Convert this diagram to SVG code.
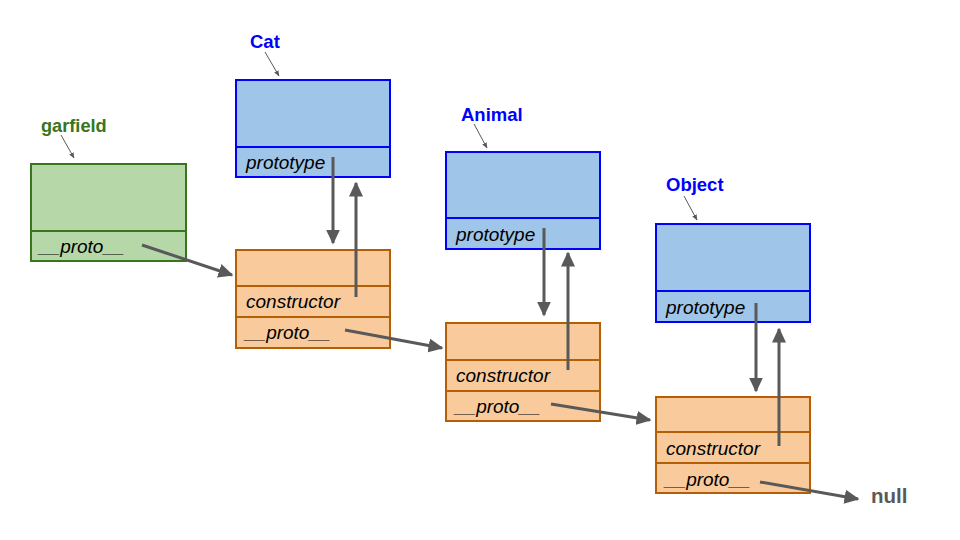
<svg xmlns="http://www.w3.org/2000/svg" width="960" height="540" viewBox="0 0 960 540">
<style>
.g{fill:#b6d7a8;stroke:#38761d;stroke-width:2}
.b{fill:#9fc5e8;stroke:#0000ff;stroke-width:2}
.o{fill:#f9cb9c;stroke:#b45f06;stroke-width:2}
.t{font-family:"Liberation Sans",Arial,sans-serif;font-size:19px;font-style:italic;fill:#000}
.lb{font-family:"Liberation Sans",Arial,sans-serif;font-size:18.5px;font-weight:bold;fill:#0000ff}
.lg{font-family:"Liberation Sans",Arial,sans-serif;font-size:18.2px;font-weight:bold;fill:#38761d}
.a{stroke:#595959;stroke-width:3;fill:none;marker-end:url(#ah)}
.s{stroke:#595959;stroke-width:1;fill:none;marker-end:url(#sh)}
</style>
<defs>
<marker id="ah" viewBox="0 0 10 9.4" refX="9" refY="4.7" markerWidth="5" markerHeight="4.7" orient="auto" markerUnits="strokeWidth"><path d="M0,0 L10,4.7 L0,9.4 z" fill="#595959"/></marker>
<marker id="sh" viewBox="0 0 10 10" refX="9" refY="5" markerWidth="6" markerHeight="6" orient="auto" markerUnits="strokeWidth"><path d="M0,1 L10,5 L0,9 z" fill="#595959"/></marker>
</defs>
<rect width="960" height="540" fill="#fff"/>
<g id="garfield">
<rect class="g" x="31" y="164" width="155" height="67"/>
<rect class="g" x="31" y="231" width="155" height="30"/>
<text class="t" x="39" y="253">__proto__</text>
<text class="lg" x="41" y="132">garfield</text>
</g>
<g id="cat">
<rect class="b" x="236" y="80" width="154" height="67"/>
<rect class="b" x="236" y="147" width="154" height="30"/>
<text class="t" x="246" y="169">prototype</text>
<text class="lb" x="250" y="48">Cat</text>
</g>
<g id="cat-proto">
<rect class="o" x="236" y="250" width="154" height="36"/>
<rect class="o" x="236" y="286" width="154" height="31"/>
<rect class="o" x="236" y="317" width="154" height="31"/>
<text class="t" x="246" y="308">constructor</text>
<text class="t" x="245" y="339">__proto__</text>
</g>
<g id="animal">
<rect class="b" x="446" y="152" width="154" height="66"/>
<rect class="b" x="446" y="218" width="154" height="31"/>
<text class="t" x="456" y="241">prototype</text>
<text class="lb" x="461" y="121">Animal</text>
</g>
<g id="animal-proto">
<rect class="o" x="446" y="323" width="154" height="37"/>
<rect class="o" x="446" y="360" width="154" height="31"/>
<rect class="o" x="446" y="391" width="154" height="30"/>
<text class="t" x="456" y="382">constructor</text>
<text class="t" x="455" y="413">__proto__</text>
</g>
<g id="object">
<rect class="b" x="656" y="224" width="154" height="67"/>
<rect class="b" x="656" y="291" width="154" height="31"/>
<text class="t" x="666" y="314">prototype</text>
<text class="lb" x="666" y="191">Object</text>
</g>
<g id="object-proto">
<rect class="o" x="656" y="397" width="154" height="35"/>
<rect class="o" x="656" y="432" width="154" height="31"/>
<rect class="o" x="656" y="463" width="154" height="30"/>
<text class="t" x="666" y="455">constructor</text>
<text class="t" x="665" y="486">__proto__</text>
</g>
<g id="null">
<text x="871" y="503" font-family="Liberation Sans,Arial,sans-serif" font-size="20.5" font-weight="bold" fill="#595959">null</text>
</g>
<g id="connectors">
<line class="s" x1="61" y1="135" x2="74" y2="158"/>
<line class="s" x1="265" y1="52" x2="279" y2="76"/>
<line class="s" x1="474" y1="124" x2="487" y2="148"/>
<line class="s" x1="684" y1="196" x2="697" y2="220"/>
<line class="a" x1="142" y1="245" x2="232" y2="275"/>
<line class="a" x1="333" y1="157" x2="333" y2="243"/>
<line class="a" x1="356" y1="297" x2="356" y2="183"/>
<line class="a" x1="345" y1="330" x2="442" y2="348"/>
<line class="a" x1="544" y1="228" x2="544" y2="315"/>
<line class="a" x1="568" y1="370" x2="568" y2="253"/>
<line class="a" x1="551" y1="404" x2="650" y2="420"/>
<line class="a" x1="756" y1="303" x2="756" y2="391"/>
<line class="a" x1="779" y1="446" x2="779" y2="329"/>
<line class="a" x1="760" y1="482" x2="858" y2="499"/>
</g>
</svg>
